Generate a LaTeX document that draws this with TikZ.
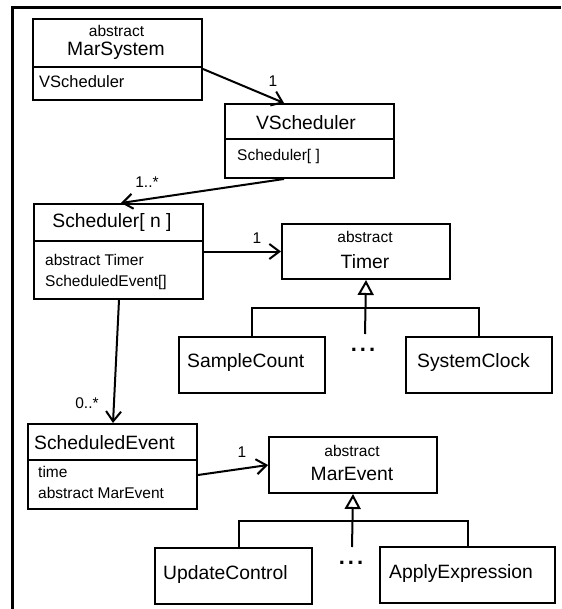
\documentclass[tikz,border=0pt]{standalone}
\usepackage{fontspec}
\setmainfont{Liberation Sans}
\usetikzlibrary{arrows.meta,calc}
\begin{document}
\begin{tikzpicture}[x=1pt,y=-1pt,
  cls/.style={draw, line width=2pt, inner sep=0pt, anchor=north west},
  ttl/.style={font=\fontsize{19.3}{23}\selectfont, inner sep=0pt},
  sml/.style={font=\fontsize{15.5}{18}\selectfont, inner sep=0pt},
  assoc/.style={line width=2pt, -{Straight Barb[length=10pt,width=15pt,line width=2pt]}},
  gen/.style={line width=2pt, -{Triangle[open,length=15pt,width=16pt,line width=2pt]}},
  tree/.style={line width=2pt},
  divider/.style={line width=2pt},
  dots/.style={font=\fontsize{22}{24}\selectfont\bfseries, inner sep=0pt}
]
\useasboundingbox (0,0) rectangle (561,609);
\draw[line width=3pt] (12,609) -- (12,7.5) -- (561,7.5);

% MarSystem
\node[cls, minimum width=169pt, minimum height=81pt] (marsys) at (32,18) {};
\draw[divider] (marsys.west |- 0,66.7) -- (marsys.east |- 0,66.7);
\node[sml] (marsysabs) at (116.5,31) {abstract};
\node[ttl] (marsysname) at (116,51) {MarSystem};
\node[sml, anchor=west, font=\fontsize{16.5}{18}\selectfont] (marsysattr) at (39,82) {VScheduler};

% VScheduler
\node[cls, minimum width=169pt, minimum height=74pt] (vsched) at (224,103) {};
\draw[divider] (vsched.west |- 0,139.5) -- (vsched.east |- 0,139.5);
\node[ttl] (vschedname) at (306,123) {VScheduler};
\node[sml, anchor=west] (vschedattr) at (237,156.5) {Scheduler[ ]};

% Scheduler[ n ]
\node[cls, minimum width=169pt, minimum height=95pt] (sched) at (33,203) {};
\draw[divider] (sched.west |- 0,241) -- (sched.east |- 0,241);
\node[ttl] (schedname) at (112,223) {Scheduler[ n ]};
\node[sml, anchor=west] (schedattr1) at (45,260) {abstract Timer};
\node[sml, anchor=west] (schedattr2) at (45,282) {ScheduledEvent[]};

% Timer
\node[cls, minimum width=168pt, minimum height=55pt] (timer) at (281,223) {};
\node[sml] (timerabs) at (365,237) {abstract};
\node[ttl] (timername) at (365,262) {Timer};

% SampleCount, SystemClock
\node[cls, minimum width=146pt, minimum height=56pt] (sc) at (178,336) {};
\node[ttl, anchor=west] (sctext) at (187,363) {SampleCount};
\node[cls, minimum width=146pt, minimum height=56pt] (clk) at (405,336) {};
\node[ttl, anchor=west] (clktext) at (417,363) {SystemClock};
\node[dots] (timerdots) at (363,350) {.\hspace{3pt}.\hspace{3pt}.};

% ScheduledEvent
\node[cls, minimum width=169pt, minimum height=85pt] (scev) at (27,423) {};
\draw[divider] (scev.west |- 0,460) -- (scev.east |- 0,460);
\node[ttl] (scevname) at (104.5,443) {ScheduledEvent};
\node[sml, anchor=west] (scevattr1) at (38,472) {time};
\node[sml, anchor=west] (scevattr2) at (38,493) {abstract MarEvent};

% MarEvent
\node[cls, minimum width=168pt, minimum height=56pt] (marev) at (268,436) {};
\node[sml] (marevabs) at (352,451) {abstract};
\node[ttl] (marevname) at (352,474) {MarEvent};

% UpdateControl, ApplyExpression
\node[cls, minimum width=157pt, minimum height=56pt] (uc) at (154,547) {};
\node[ttl, anchor=west] (uctext) at (163,575) {UpdateControl};
\node[cls, minimum width=175pt, minimum height=56pt] (ae) at (379,546) {};
\node[ttl, anchor=west] (aetext) at (389,574) {ApplyExpression};
\node[dots] (marevdots) at (351,563) {.\hspace{3pt}.\hspace{3pt}.};

% associations
\draw[assoc] ([yshift=-9.5pt]marsys.east) -- ([xshift=-25.5pt]vsched.north);
\node[sml] (m1) at (273,81) {1};
\draw[assoc] ([xshift=-25.5pt]vsched.south) -- ([xshift=2.5pt]sched.north);
\node[sml] (m2) at (147,182) {1..*};
\draw[assoc] (sched.east) -- (timer.west);
\node[sml] (m3) at (257,238) {1};
\draw[assoc] ([xshift=0.5pt]sched.south) -- ([xshift=0.5pt]scev.north);
\node[sml] (m4) at (87,403) {0..*};
\draw[assoc] ([yshift=-8.5pt]scev.east) -- (marev.west);
\node[sml] (m5) at (242,452) {1};

% generalizations
\coordinate (tg) at (365,334);
\draw[gen] (tg) -- (timer.south);
\coordinate (tbar) at (0,308);
\draw[tree] (sc.north) -- (sc.north |- tbar) -- (clk.north |- tbar) -- (clk.north);
\coordinate (mg) at (352,547);
\draw[gen] (mg) -- (marev.south);
\coordinate (mbar) at (0,521);
\coordinate (ucjoin) at ([xshift=5.5pt]uc.north);
\draw[tree] (ucjoin) -- (ucjoin |- mbar) -- (ae.north |- mbar) -- (ae.north);
\end{tikzpicture}
\end{document}
